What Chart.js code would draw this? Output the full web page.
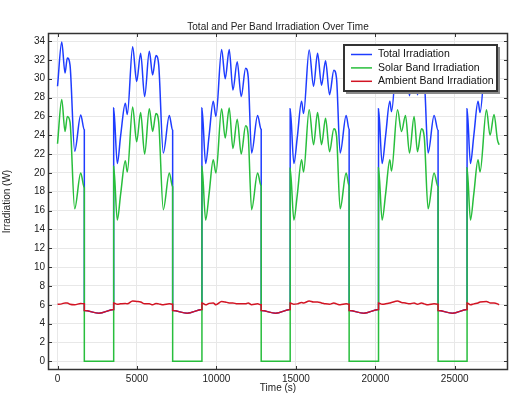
<!DOCTYPE html>
<html>
<head>
<meta charset="utf-8">
<script src="https://cdn.jsdelivr.net/npm/chart.js@4.4.1/dist/chart.umd.min.js"></script>
<style>
  html, body { margin: 0; padding: 0; background: #fff; }
  #wrap { width: 517px; height: 399px; }
</style>
</head>
<body>
<div id="wrap"><canvas id="irrChart" width="517" height="399"></canvas></div>
<script>
// time samples (s), shared by all three series; duplicate times mark the eclipse jumps
const timeSec = [
  0, 264, 472, 616, 786, 1080, 1459, 1686,
  1686, 2610, 3534,
  3534, 3761, 3975, 4266, 4392, 4727, 4979, 5231, 5482, 5776, 5985, 6195, 6365, 6656, 7035, 7245,
  7245, 8166, 9088,
  9088, 9321, 9540, 9799, 9969, 10327, 10553, 10805, 11038, 11308, 11560, 11836, 12000, 12214, 12591, 12818,
  12818, 13730, 14642,
  14642, 14874, 15090, 15358, 15484, 15837, 16113, 16365, 16616, 16868, 17120, 17390, 17560, 17786, 18164, 18352,
  18352, 19276, 20201,
  20201, 20428, 20650, 20912, 21019, 21396, 21648, 21899, 22151, 22440, 22653, 22905, 23080, 23321, 23698, 23950,
  23950, 24862, 25774,
  25774, 25987, 26200, 26465, 26591, 26994, 27220, 27472, 27686, 27790
];

const totalIrr = [
  29.2, 33.9, 30.6, 32.2, 31.45, 22.3, 26.15, 24.55,
  5.4, 5.1, 5.5,
  26.9, 21.0, 24.0, 27.4, 26.2, 33.4, 29.7, 32.7, 28.1, 32.9, 30.4, 32.45, 31.5, 22.1, 26.1, 24.5,
  5.4, 5.1, 5.5,
  26.9, 21.0, 24.0, 27.6, 26.0, 33.1, 30.0, 33.1, 28.8, 31.8, 28.1, 31.1, 30.2, 22.1, 26.1, 24.6,
  5.4, 5.1, 5.5,
  26.8, 21.0, 23.8, 27.6, 26.3, 33.05, 29.2, 32.7, 29.3, 31.9, 28.3, 30.9, 30.0, 22.1, 26.1, 24.6,
  5.4, 5.1, 5.5,
  26.8, 21.0, 24.0, 27.6, 26.5, 32.9, 30.6, 32.3, 28.2, 32.2, 28.3, 30.9, 30.0, 22.1, 26.1, 24.5,
  5.4, 5.1, 5.5,
  26.8, 21.0, 24.0, 27.6, 26.4, 32.9, 30.2, 32.4, 29.6, 29.0
];

const solarIrr = [
  23.1, 27.8, 24.4, 26.0, 25.4, 16.2, 20.0, 18.4,
  0, 0, 0,
  20.7, 15.0, 17.8, 21.3, 20.1, 27.0, 23.3, 26.4, 22.0, 26.8, 24.4, 26.3, 25.4, 16.1, 20.0, 18.5,
  0, 0, 0,
  20.7, 15.0, 17.8, 21.4, 20.0, 26.8, 23.7, 26.9, 22.6, 25.7, 22.0, 25.0, 24.0, 16.1, 20.0, 18.6,
  0, 0, 0,
  20.5, 15.0, 17.7, 21.4, 20.1, 26.7, 23.0, 26.4, 23.0, 25.8, 22.25, 24.7, 23.9, 16.2, 20.0, 18.6,
  0, 0, 0,
  20.55, 15.0, 17.8, 21.4, 20.2, 26.7, 24.4, 26.1, 22.1, 26.0, 22.25, 24.7, 23.8, 16.2, 20.0, 18.5,
  0, 0, 0,
  20.55, 15.0, 17.8, 21.4, 20.1, 26.7, 24.0, 26.2, 23.5, 23.0
];

const ambientIrr = [
  6.05, 6.1, 6.2, 6.2, 6.05, 6.0, 6.15, 6.1,
  5.4, 5.1, 5.5,
  6.2, 6.05, 6.1, 6.15, 6.1, 6.4, 6.35, 6.3, 6.1, 6.1, 6.0, 6.15, 6.1, 6.0, 6.1, 6.05,
  5.4, 5.1, 5.5,
  6.2, 6.0, 6.15, 6.2, 6.0, 6.35, 6.3, 6.2, 6.2, 6.1, 6.1, 6.1, 6.2, 6.0, 6.1, 6.0,
  5.4, 5.1, 5.5,
  6.2, 6.05, 6.1, 6.25, 6.2, 6.4, 6.3, 6.3, 6.2, 6.1, 6.05, 6.2, 6.1, 6.0, 6.1, 6.05,
  5.4, 5.1, 5.5,
  6.2, 6.05, 6.1, 6.2, 6.25, 6.4, 6.25, 6.2, 6.1, 6.2, 6.05, 6.2, 6.1, 6.0, 6.1, 6.05,
  5.4, 5.1, 5.5,
  6.2, 6.0, 6.1, 6.2, 6.3, 6.35, 6.2, 6.2, 6.1, 6.0
];

const xTicks = [0, 5000, 10000, 15000, 20000, 25000];
const yTicks = [0, 2, 4, 6, 8, 10, 12, 14, 16, 18, 20, 22, 24, 26, 28, 30, 32, 34];

const FONT = "'Liberation Sans', Arial, sans-serif";
const toPoints = vals => vals.map((v, i) => ({ x: timeSec[i], y: v }));

// inward tick marks on all four sides plus the plot frame
const frameTicks = {
  id: 'frameTicks',
  afterDatasetsDraw(chart) {
    const { ctx, chartArea: a, scales } = chart;
    ctx.save();
    ctx.strokeStyle = '#333';
    ctx.lineWidth = 1;
    ctx.beginPath();
    xTicks.forEach(v => {
      const px = Math.round(scales.x.getPixelForValue(v)) + 0.5;
      ctx.moveTo(px, a.bottom); ctx.lineTo(px, a.bottom - 4);
      ctx.moveTo(px, a.top); ctx.lineTo(px, a.top + 4);
    });
    yTicks.forEach(v => {
      const py = Math.round(scales.y.getPixelForValue(v)) + 0.5;
      ctx.moveTo(a.left, py); ctx.lineTo(a.left + 4, py);
      ctx.moveTo(a.right, py); ctx.lineTo(a.right - 4, py);
    });
    ctx.stroke();
    ctx.lineWidth = 1.5;
    ctx.strokeRect(a.left + 0.5, a.top + 0.5, a.right - a.left - 1, a.bottom - a.top - 1);
    ctx.restore();
  }
};

// boxed legend drawn over the plot, top right
const boxLegend = {
  id: 'boxLegend',
  afterDraw(chart) {
    const { ctx, chartArea: a } = chart;
    const x = a.right - 164, y = a.top + 12, w = 153, h = 46;
    ctx.save();
    ctx.fillStyle = '#8a8a8a';
    ctx.fillRect(x + 2, y + 2, w + 1, h + 1);
    ctx.fillStyle = '#fff';
    ctx.fillRect(x, y, w, h);
    ctx.strokeStyle = '#333';
    ctx.lineWidth = 2;
    ctx.strokeRect(x, y, w, h);
    ctx.font = '10.5px ' + FONT;
    ctx.textBaseline = 'middle';
    chart.data.datasets.forEach((ds, i) => {
      const ry = y + 9.5 + i * 13.4;
      ctx.strokeStyle = ds.borderColor;
      ctx.lineWidth = 1.5;
      ctx.beginPath();
      ctx.moveTo(x + 7, ry); ctx.lineTo(x + 28, ry);
      ctx.stroke();
      ctx.fillStyle = '#111';
      ctx.fillText(ds.label, x + 34, ry);
    });
    ctx.restore();
  }
};

const ctx = document.getElementById('irrChart').getContext('2d');
new Chart(ctx, {
  type: 'line',
  data: {
    datasets: [
      { label: 'Total Irradiation', data: toPoints(totalIrr), borderColor: 'rgb(30,60,255)', order: 3 },
      { label: 'Solar Band Irradiation', data: toPoints(solarIrr), borderColor: 'rgb(40,190,60)', order: 2 },
      { label: 'Ambient Band Irradiation', data: toPoints(ambientIrr), borderColor: 'rgb(210,20,35)', order: 1 }
    ]
  },
  options: {
    responsive: false,
    animation: false,
    layout: { padding: { top: 0, right: 9, bottom: 0, left: 0 } },
    elements: {
      point: { radius: 0 },
      line: { borderWidth: 1.5, cubicInterpolationMode: 'monotone', fill: false }
    },
    plugins: {
      legend: { display: false },
      tooltip: { enabled: false },
      title: {
        display: true,
        fullSize: false,
        text: 'Total and Per Band Irradiation Over Time',
        color: '#222',
        font: { family: FONT, size: 10, weight: 'normal' },
        padding: { top: 21, bottom: 0 }
      }
    },
    scales: {
      x: {
        type: 'linear',
        min: -600,
        max: 28350,
        afterBuildTicks: s => { s.ticks = xTicks.map(v => ({ value: v })); },
        afterFit: s => { s.height = 29; },
        grid: { color: '#e8e8e8', drawTicks: false },
        border: { display: false },
        ticks: { color: '#222', padding: 3, font: { family: FONT, size: 10 }, maxRotation: 0, autoSkip: false, callback: v => String(v) },
        title: { display: true, text: 'Time (s)', color: '#222', font: { family: FONT, size: 10 }, padding: { top: 0, bottom: 5 } }
      },
      y: {
        min: -0.92,
        max: 34.85,
        afterBuildTicks: s => { s.ticks = yTicks.map(v => ({ value: v })); },
        afterFit: s => { s.width = 48; },
        grid: { color: '#e8e8e8', drawTicks: false },
        border: { display: false },
        ticks: { color: '#222', padding: 3, font: { family: FONT, size: 10 }, autoSkip: false, callback: v => String(v) },
        title: { display: true, text: 'Irradiation (W)', color: '#222', font: { family: FONT, size: 10 }, padding: { top: 1, bottom: 0 } }
      }
    }
  },
  plugins: [frameTicks, boxLegend]
});
</script>
</body>
</html>
